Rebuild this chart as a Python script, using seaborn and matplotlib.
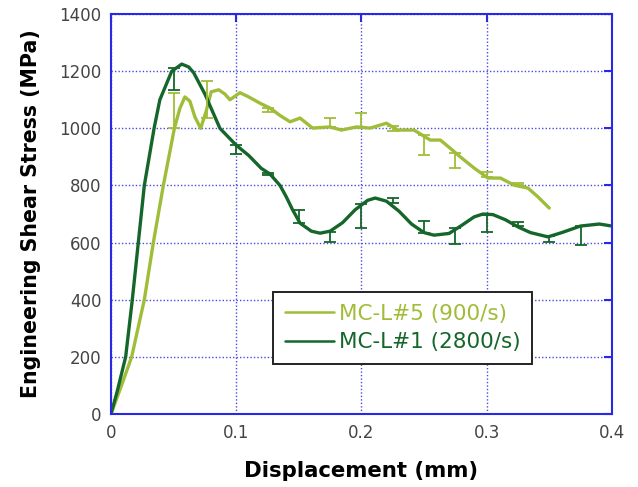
import numpy as np
import pandas as pd
import matplotlib
matplotlib.use("Agg")
import matplotlib.pyplot as plt
import seaborn as sns

# ---- data ----
x_l1 = [0, 0.005, 0.0117, 0.017, 0.0218, 0.0266, 0.0344, 0.039, 0.0485, 0.0565,
        0.062, 0.066, 0.075, 0.087, 0.100, 0.110, 0.120, 0.127, 0.135, 0.140, 0.145, 0.151,
        0.160, 0.167, 0.175, 0.185, 0.195, 0.205, 0.211, 0.220, 0.230, 0.240, 0.250, 0.258,
        0.270, 0.280, 0.290, 0.297, 0.305, 0.315, 0.325, 0.335, 0.349, 0.360, 0.375, 0.390, 0.400]
y_l1 = [0, 80, 200, 400, 600, 800, 1000, 1100, 1200, 1225,
        1215, 1195, 1120, 1000, 941, 905, 860, 840, 800, 760, 715, 668,
        640, 633, 640, 670, 715, 748, 756, 745, 710, 665, 635, 626,
        632, 660, 690, 700, 698, 680, 655, 635, 620, 635, 658, 665, 658]

x_l5 = [0, 0.008, 0.0165, 0.0266, 0.0338, 0.0418, 0.0506, 0.055, 0.059, 0.063, 0.067, 0.0716,
        0.076, 0.080, 0.086, 0.091, 0.095, 0.103, 0.110, 0.119, 0.127, 0.135, 0.143, 0.151,
        0.161, 0.175, 0.184, 0.196, 0.207, 0.220, 0.229, 0.242, 0.255, 0.263,
        0.271, 0.279, 0.290, 0.301, 0.311, 0.322, 0.333, 0.341, 0.350]
y_l5 = [0, 95, 200, 400, 600, 800, 1000, 1070, 1110, 1095, 1040, 1000,
        1060, 1128, 1135, 1120, 1100, 1125, 1110, 1088, 1071, 1045, 1023, 1036,
        1001, 1005, 994, 1005, 1001, 1018, 994, 994, 959, 959,
        930, 900, 861, 826, 826, 801, 791, 760, 721]

# error bars (position, centre, lower, upper)
eb1_x = [0.05, 0.10, 0.125, 0.15, 0.175, 0.20, 0.225, 0.25, 0.275, 0.30, 0.325, 0.35, 0.375]
eb1_y = [1210, 941, 843, 668, 638, 735, 740, 635, 650, 697, 658, 622, 658]
eb1_lo = [75, 30, 8, 0, 35, 85, 0, 0, 55, 60, 0, 20, 65]
eb1_hi = [0, 0, 0, 45, 0, 0, 15, 40, 0, 0, 15, 0, 0]

eb5_x = [0.05, 0.0765, 0.125, 0.175, 0.20, 0.225, 0.25, 0.275, 0.30, 0.325]
eb5_y = [1000, 1055, 1073, 1005, 1003, 1010, 975, 915, 828, 800]
eb5_lo = [0, 20, 15, 0, 0, 20, 70, 55, 0, 0]
eb5_hi = [125, 110, 0, 30, 50, 0, 0, 0, 20, 10]

labels = ["MC-L#5 (900/s)", "MC-L#1 (2800/s)"]
x_ticks = [0, 0.1, 0.2, 0.3, 0.4]
x_ticklabels = ["0", "0.1", "0.2", "0.3", "0.4"]
y_ticks = [0, 200, 400, 600, 800, 1000, 1200, 1400]

c_light = "#a0bd3a"
c_dark = "#15662a"
c_axis = "#2828e6"

sns.set_theme(style="white")
plt.rcParams['font.family'] = ['DejaVu Sans']

df = pd.concat([
    pd.DataFrame({"x": x_l5, "y": y_l5, "s": labels[0]}),
    pd.DataFrame({"x": x_l1, "y": y_l1, "s": labels[1]}),
])

fig = plt.figure(figsize=(6.38, 4.87), dpi=100)
ax = fig.add_axes([0.174, 0.150, 0.785, 0.821])

sns.lineplot(data=df, x="x", y="y", hue="s", palette=[c_light, c_dark],
             linewidth=2.4, sort=False, estimator=None, ax=ax, legend=True)

ax.errorbar(eb5_x, eb5_y, yerr=[eb5_lo, eb5_hi], fmt="none", ecolor=c_light,
            elinewidth=1.3, capsize=4, capthick=1.3)
ax.errorbar(eb1_x, eb1_y, yerr=[eb1_lo, eb1_hi], fmt="none", ecolor=c_dark,
            elinewidth=1.3, capsize=4, capthick=1.3)

ax.set_xlim(0, 0.4)
ax.set_ylim(0, 1400)
ax.set_xticks(x_ticks)
ax.set_xticklabels(x_ticklabels)
ax.set_yticks(y_ticks)
ax.grid(True, color="#4a4ae0", linestyle=(0, (1, 1.5)), linewidth=1.0)
for sp in ax.spines.values():
    sp.set_color(c_axis)
    sp.set_linewidth(1.5)
ax.tick_params(direction="in", length=6, width=1.5, color=c_axis,
               top=True, right=True, labelsize=12, labelcolor="#444444", pad=7)

ax.set_xlabel("Displacement (mm)", fontsize=15.3, fontweight="bold", color="black", labelpad=14)
ax.set_ylabel("Engineering Shear Stress (MPa)", fontsize=14.8, fontweight="bold", color="black", labelpad=13)

leg = ax.legend(loc="upper left", bbox_to_anchor=(0.323, 0.305), fontsize=15.5,
                frameon=True, fancybox=False, edgecolor="#222222", framealpha=1,
                handlelength=2.28, handletextpad=0.23, borderpad=0.55, labelspacing=0.4,
                borderaxespad=0)
leg.get_frame().set_linewidth(1.4)
for txt, col in zip(leg.get_texts(), [c_light, c_dark]):
    txt.set_color(col)
for h in leg.get_lines():
    h.set_linewidth(1.8)

fig.savefig("out.png", dpi=100)
